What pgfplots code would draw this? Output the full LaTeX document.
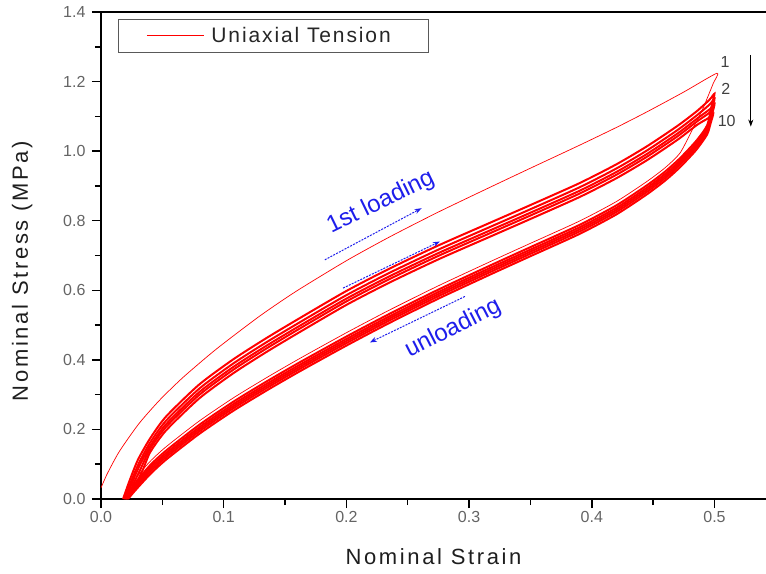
\documentclass[border=0pt]{standalone}
\usepackage{fontspec}
\setmainfont{Liberation Sans}
\usepackage{pgfplots}
\pgfplotsset{compat=1.18}
\usetikzlibrary{arrows.meta}
\definecolor{tickgray}{RGB}{100,100,100}
\definecolor{labeldark}{RGB}{30,30,30}
\definecolor{annoblue}{RGB}{30,30,235}
\begin{document}
\begin{tikzpicture}
\begin{axis}[
  name=ax,
  scale only axis,
  width=665pt, height=487pt,
  xmin=0, xmax=0.542, ymin=0, ymax=1.4,
  axis x line=box, axis y line=left,
  axis line style={-, line width=1.5pt, black},
  xtick={0,0.1,0.2,0.3,0.4,0.5},
  ytick={0,0.2,0.4,0.6,0.8,1.0,1.2,1.4},
  minor x tick num=1, minor y tick num=1,
  xtick pos=left, ytick pos=left,
  tick align=outside,
  major tick length=9pt, minor tick length=6pt,
  every tick/.style={black, line width=1.5pt},
  /pgf/number format/fixed, /pgf/number format/fixed zerofill,
  /pgf/number format/precision=1, /pgf/number format/assume math mode=true,
  ticklabel style={font=\fontsize{16}{18}\selectfont, text=tickgray},
  yticklabel style={xshift=-3pt},
  xlabel={Nominal Strain}, ylabel={Nominal Stress (MPa)},
  label style={font=\fontsize{22}{24}\selectfont\addfontfeature{LetterSpace=12}, text=labeldark},
  xlabel style={at={(rel axis cs:0.5,-0.1335)}, anchor=base},
  ylabel style={at={(rel axis cs:-0.0977,0.468)}, anchor=south},
  legend image code/.code={\draw[#1, line width=0.9pt] (0pt,0pt) -- (57pt,0pt);},
  legend style={at={(rel axis cs:0,1)}, anchor=north west, xshift=17pt, yshift=-7pt,
    draw=black!65, line width=1pt, inner xsep=28pt, inner ysep=5pt,
    font=\fontsize{21}{24}\selectfont\addfontfeature{LetterSpace=9}, text=black!85,
    nodes={inner sep=3pt}},
]
% cycle 1 (first loading + unloading)
\addplot[red, line width=0.7pt, smooth, tension=0.4] coordinates {
(0.000,0.032) (0.005,0.072) (0.015,0.137) (0.031,0.217) (0.048,0.285) (0.067,0.350)
(0.094,0.431) (0.129,0.525) (0.159,0.597) (0.200,0.685) (0.235,0.753) (0.275,0.825)
(0.317,0.896) (0.350,0.951) (0.390,1.017) (0.420,1.068) (0.445,1.113) (0.475,1.170)
(0.502,1.224)
(0.499,1.195) (0.495,1.160) (0.490,1.118) (0.482,1.062) (0.472,0.995) (0.460,0.953)
(0.445,0.913) (0.420,0.855) (0.390,0.799) (0.350,0.735) (0.317,0.682) (0.275,0.613)
(0.235,0.543) (0.200,0.478) (0.162,0.404) (0.135,0.349) (0.108,0.291) (0.080,0.224)
(0.053,0.150) (0.040,0.108) (0.028,0.058) (0.019,0.000)};
\addlegendentry{\hspace*{4pt}Uniaxial Tension\hspace*{7pt}}
% cycle 2
\addplot[red, line width=2pt, smooth, tension=0.4, forget plot] coordinates {
(0.018,0.000) (0.023,0.050) (0.030,0.112) (0.040,0.174) (0.053,0.237) (0.080,0.329)
(0.108,0.402) (0.135,0.463) (0.162,0.520) (0.200,0.598) (0.235,0.662) (0.275,0.729)
(0.317,0.794) (0.350,0.845) (0.390,0.908) (0.420,0.962) (0.445,1.014) (0.470,1.073)
(0.486,1.116) (0.496,1.148) (0.500,1.165)
(0.498,1.135) (0.494,1.074) (0.485,1.029) (0.472,0.980) (0.460,0.942) (0.445,0.902)
(0.420,0.844) (0.390,0.788) (0.350,0.724) (0.317,0.671) (0.275,0.602) (0.235,0.532)
(0.200,0.467) (0.162,0.393) (0.135,0.338) (0.108,0.280) (0.080,0.213) (0.053,0.139)
(0.040,0.097) (0.028,0.046) (0.019,0.000)};
% cycle 3
\addplot[red, line width=2pt, smooth, tension=0.4, forget plot] coordinates {
(0.019,0.000) (0.024,0.046) (0.031,0.104) (0.040,0.162) (0.053,0.225) (0.080,0.317)
(0.108,0.390) (0.135,0.451) (0.162,0.508) (0.200,0.586) (0.235,0.650) (0.275,0.717)
(0.317,0.782) (0.350,0.833) (0.390,0.896) (0.420,0.950) (0.445,1.002) (0.470,1.061)
(0.486,1.104) (0.496,1.134) (0.500,1.150)
(0.498,1.122) (0.494,1.067) (0.485,1.022) (0.472,0.973) (0.460,0.935) (0.445,0.895)
(0.420,0.837) (0.390,0.781) (0.350,0.717) (0.317,0.664) (0.275,0.595) (0.235,0.525)
(0.200,0.460) (0.162,0.386) (0.135,0.331) (0.108,0.273) (0.080,0.206) (0.053,0.132)
(0.040,0.090) (0.028,0.041) (0.020,0.000)};
% cycle 5
\addplot[red, line width=2pt, smooth, tension=0.4, forget plot] coordinates {
(0.020,0.000) (0.025,0.045) (0.032,0.100) (0.040,0.152) (0.053,0.215) (0.080,0.307)
(0.108,0.380) (0.135,0.441) (0.162,0.498) (0.200,0.576) (0.235,0.640) (0.275,0.707)
(0.317,0.772) (0.350,0.823) (0.390,0.886) (0.420,0.940) (0.445,0.992) (0.470,1.051)
(0.486,1.094) (0.496,1.120) (0.500,1.135)
(0.498,1.108) (0.494,1.061) (0.485,1.016) (0.472,0.967) (0.460,0.929) (0.445,0.889)
(0.420,0.831) (0.390,0.775) (0.350,0.711) (0.317,0.658) (0.275,0.589) (0.235,0.519)
(0.200,0.454) (0.162,0.380) (0.135,0.325) (0.108,0.267) (0.080,0.200) (0.053,0.126)
(0.040,0.084) (0.028,0.036) (0.020,0.000)};
% cycle 7
\addplot[red, line width=2pt, smooth, tension=0.4, forget plot] coordinates {
(0.021,0.000) (0.026,0.040) (0.033,0.092) (0.040,0.144) (0.053,0.207) (0.080,0.299)
(0.108,0.372) (0.135,0.433) (0.162,0.490) (0.200,0.568) (0.235,0.632) (0.275,0.699)
(0.317,0.764) (0.350,0.815) (0.390,0.878) (0.420,0.932) (0.445,0.984) (0.470,1.043)
(0.486,1.086) (0.495,1.108) (0.499,1.122)
(0.497,1.095) (0.494,1.055) (0.485,1.010) (0.472,0.961) (0.460,0.923) (0.445,0.883)
(0.420,0.825) (0.390,0.769) (0.350,0.705) (0.317,0.652) (0.275,0.583) (0.235,0.513)
(0.200,0.448) (0.162,0.374) (0.135,0.319) (0.108,0.261) (0.080,0.194) (0.053,0.120)
(0.040,0.078) (0.028,0.031) (0.021,0.000)};
% cycle 10
\addplot[red, line width=2pt, smooth, tension=0.4, forget plot] coordinates {
(0.022,0.000) (0.027,0.034) (0.034,0.083) (0.040,0.134) (0.053,0.197) (0.080,0.289)
(0.108,0.362) (0.135,0.423) (0.162,0.480) (0.200,0.558) (0.235,0.622) (0.275,0.689)
(0.317,0.754) (0.350,0.805) (0.390,0.868) (0.420,0.922) (0.445,0.974) (0.470,1.033)
(0.486,1.076) (0.495,1.095) (0.499,1.108)
(0.497,1.082) (0.494,1.048) (0.485,1.003) (0.472,0.954) (0.460,0.916) (0.445,0.876)
(0.420,0.818) (0.390,0.762) (0.350,0.698) (0.317,0.645) (0.275,0.576) (0.235,0.506)
(0.200,0.441) (0.162,0.367) (0.135,0.312) (0.108,0.254) (0.080,0.187) (0.053,0.113)
(0.040,0.071) (0.028,0.025) (0.022,0.000)};
% annotations
\node[text=annoblue, rotate=26, font=\fontsize{24}{26}\selectfont] at (axis cs:0.228,0.852) {1st loading};
\node[text=annoblue, rotate=27, font=\fontsize{24}{26}\selectfont] at (axis cs:0.287,0.4900) {unloading};
\draw[annoblue, line width=1pt, dash pattern=on 2pt off 1.2pt, -{Stealth[length=7pt,width=5pt]}] (axis cs:0.1824,0.6876) -- (axis cs:0.2613,0.836);
\draw[annoblue, line width=1pt, dash pattern=on 2pt off 1.2pt, -{Stealth[length=7pt,width=5pt]}] (axis cs:0.1973,0.6063) -- (axis cs:0.2762,0.7402);
\draw[annoblue, line width=1pt, dash pattern=on 2pt off 1.2pt, -{Stealth[length=7pt,width=5pt]}] (axis cs:0.2966,0.5822) -- (axis cs:0.2191,0.450);
\node[text=black!75, font=\fontsize{16}{18}\selectfont] at (axis cs:0.5086,1.2566) {1};
\node[text=black!75, font=\fontsize{16}{18}\selectfont] at (axis cs:0.5092,1.179) {2};
\node[text=black!75, font=\fontsize{16}{18}\selectfont] at (axis cs:0.510,1.088) {10};
\draw[black, line width=0.8pt, -{Stealth[length=7pt,width=5pt]}] (axis cs:0.5296,1.2767) -- (axis cs:0.5296,1.0707);
\end{axis}
\pgfresetboundingbox
\path[use as bounding box] ([xshift=-101pt,yshift=-74pt]ax.south west) rectangle ([yshift=12pt]ax.north east);
\end{tikzpicture}
\end{document}
